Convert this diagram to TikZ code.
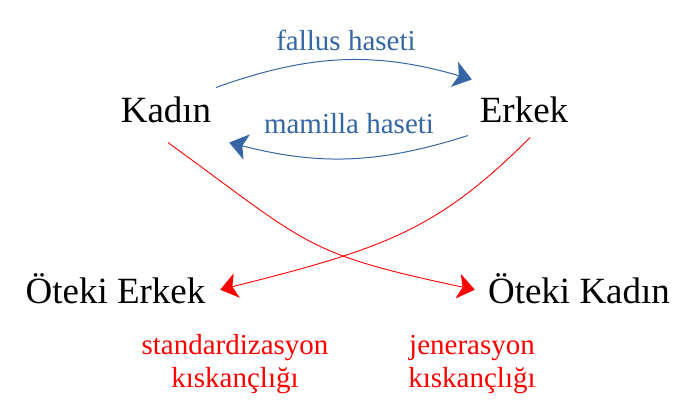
\documentclass[tikz,border=0pt]{standalone}
\usepackage{fontspec}
\setmainfont{Liberation Serif}
\usetikzlibrary{arrows.meta}
\definecolor{hasetblue}{HTML}{3465A4}
\definecolor{kiskancred}{HTML}{FF0000}

\begin{document}
\begin{tikzpicture}[x=1pt, y=1pt,
		kisi/.style={font=\fontsize{37}{40}\selectfont, inner sep=0pt, anchor=base},
		haset/.style={font=\fontsize{29}{33}\selectfont, text=hasetblue, inner sep=0pt, anchor=base},
		kiskanc/.style={font=\fontsize{29}{33}\selectfont, text=kiskancred, inner sep=0pt, anchor=base, align=center},
		mavi/.style={draw=hasetblue, line width=1pt, -{Stealth[length=18pt, width=26pt, inset=4.5pt]}},
		kirmizi/.style={draw=kiskancred, line width=0.9pt, -{Stealth[length=17pt, width=25pt, inset=4.5pt]}}]
	\useasboundingbox (0,0) rectangle (694,400);
	
	\node[kisi] (kadin) at (166,278) {Kadın};
	\node[kisi] (erkek) at (524,278) {Erkek};
	\node[kisi] (oerkek) at (115.5,97) {Öteki Erkek};
	\node[kisi] (okadin) at (579,97) {Öteki Kadın};
	
	\node[haset] (fallus) at (346,349) {fallus haseti};
	\node[haset] (mamilla) at (349,267) {mamilla haseti};
	
	\node[kiskanc] (standart) at (235,13) {standardizasyon\\kıskançlığı};
	\node[kiskanc] (jenerasyon) at (472,13) {jenerasyon\\kıskançlığı};
	
	\draw[mavi] ([shift={(4.8,8.7)}]kadin.north east) to[bend left=18] ([shift={(-7.8,16.7)}]erkek.north west);
	\draw[mavi] ([shift={(-11.8,-13)}]erkek.south west) to[bend left=16] ([shift={(17.8,-20)}]kadin.south east);
	
	\draw[kirmizi] ([shift={(2,-20)}]kadin.south) to[out=-36, in=168, out distance=175pt, in distance=175pt] ([shift={(-13,-1.5)}]okadin.west);
	\draw[kirmizi] ([shift={(6,-15)}]erkek.south) to[out=225, in=14, out distance=130pt, in distance=170pt] ([shift={(14.6,-1.5)}]oerkek.east);
\end{tikzpicture}
\end{document}
